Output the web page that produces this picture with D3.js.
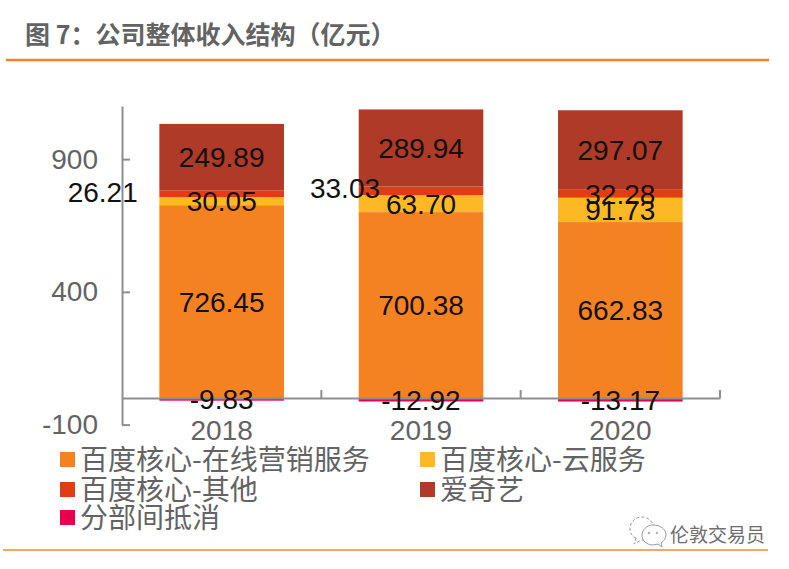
<!DOCTYPE html>
<html>
<head>
<meta charset="utf-8">
<script src="https://d3js.org/d3.v7.min.js"></script>
<style>
html, body { margin: 0; padding: 0; background: #fff; }
svg { display: block; }
text { font-family: "Liberation Sans", "Noto Sans CJK SC", sans-serif; }
</style>
</head>
<body>
<div id="container"></div>
<script>
const width = 789;
const height = 569;

// Chart values
const years = ["2018", "2019", "2020"];
const coreAds = [726.45, 700.38, 662.83];
const coreCloud = [30.05, 63.70, 91.73];
const coreOther = [26.21, 33.03, 32.28];
const iqiyi = [249.89, 289.94, 297.07];
const eliminations = [-9.83, -12.92, -13.17];
const yTicks = [-100, 400, 900];

const seriesNames = ["百度核心-在线营销服务", "百度核心-云服务", "百度核心-其他", "爱奇艺", "分部间抵消"];
const seriesColors = ["#f58220", "#fdb924", "#e03c18", "#ae3a27", "#e8004f"];

const table = years.map((year, i) => ({
	year: year,
	[seriesNames[0]]: coreAds[i],
	[seriesNames[1]]: coreCloud[i],
	[seriesNames[2]]: coreOther[i],
	[seriesNames[3]]: iqiyi[i],
	[seriesNames[4]]: eliminations[i]
}));

// Two labels were dragged off their bars in the original
const labelShift = { "百度核心-其他|2018": [-119, -2], "百度核心-其他|2019": [-76, -3] };

const plot = { left: 122, right: 720, top: 106, bottom: 424.6 };
const gray = "#636363";
const axisGray = "#8e8e8e";

const x = d3.scaleBand().domain(years).range([plot.left, plot.right]).paddingInner(0.375).paddingOuter(0.1875);
const y = d3.scaleLinear().domain([-100, 1100]).range([plot.bottom, plot.top]);

const svg = d3.select("#container").append("svg")
	.attr("width", width)
	.attr("height", height);

// Header and footer
svg.append("text")
	.attr("x", 25).attr("y", 44)
	.attr("font-size", 25).attr("font-weight", "bold").attr("fill", gray)
	.style("font-family", "'Noto Sans CJK SC', sans-serif")
	.style("font-feature-settings", "'chws' 0, 'halt' 0, 'palt' 0")
	.style("text-spacing-trim", "space-all")
	.text("图 7：公司整体收入结构（亿元）");

svg.append("line").attr("x1", 6).attr("x2", 769).attr("y1", 60).attr("y2", 60)
	.attr("stroke", "#f58220").attr("stroke-width", 2.5);
svg.append("line").attr("x1", 3).attr("x2", 768).attr("y1", 550).attr("y2", 550)
	.attr("stroke", "#f5a864").attr("stroke-width", 2);

// Stacked bars
const stack = d3.stack().keys(seriesNames).offset(d3.stackOffsetDiverging);
const layers = stack(table);

svg.append("g").selectAll("g")
	.data(layers)
	.enter().append("g")
	.attr("fill", (d, i) => seriesColors[i])
	.selectAll("rect")
	.data(d => d)
	.enter().append("rect")
	.attr("x", d => x(d.data.year))
	.attr("width", x.bandwidth())
	.attr("y", d => y(Math.max(d[0], d[1])))
	.attr("height", d => Math.abs(y(d[0]) - y(d[1])));

// Value axis
const yAxis = svg.append("g")
	.attr("transform", "translate(" + plot.left + ",0)")
	.call(d3.axisLeft(y).tickValues(yTicks).tickFormat(d => String(d)).tickSizeInner(-8).tickSizeOuter(0).tickPadding(24));
yAxis.selectAll("path, line").attr("stroke", axisGray).attr("stroke-width", 2);
yAxis.selectAll("text").attr("font-size", 28).attr("fill", gray).attr("font-family", null);

// Category axis sits on the zero line, ticks between the bars
const xAxis = svg.append("g")
	.attr("transform", "translate(0," + y(0) + ")")
	.call(d3.axisBottom(x).tickSize(0).tickPadding(22));
xAxis.select("path").attr("stroke", axisGray).attr("stroke-width", 2);
xAxis.selectAll("text").attr("font-size", 28).attr("fill", gray).attr("font-family", null);
xAxis.selectAll(".sep")
	.data(years)
	.enter().append("line")
	.attr("class", "sep")
	.attr("x1", d => x(d) + x.bandwidth() + x.step() * 0.1875)
	.attr("x2", d => x(d) + x.bandwidth() + x.step() * 0.1875)
	.attr("y1", 0).attr("y2", -8)
	.attr("stroke", axisGray).attr("stroke-width", 2);

// Data labels
layers.forEach(layer => {
	svg.append("g").selectAll("text")
		.data(layer)
		.enter().append("text")
		.attr("transform", d => {
			const shift = labelShift[layer.key + "|" + d.data.year] || [0, 0];
			const cx = x(d.data.year) + x.bandwidth() / 2 + shift[0];
			const cy = y((d[0] + d[1]) / 2) + shift[1];
			return "translate(" + cx + "," + cy + ")";
		})
		.attr("text-anchor", "middle")
		.attr("dy", "0.36em")
		.attr("font-size", 28)
		.attr("fill", "#111")
		.text(d => d.data[layer.key].toFixed(2));
});

// Legend
const legendX = [60, 420];
const legendY = [452, 482, 510];
const legendCells = [[0, 0], [1, 0], [0, 1], [1, 1], [0, 2]];
const legend = svg.append("g").selectAll("g")
	.data(seriesNames)
	.enter().append("g")
	.attr("transform", (d, i) => "translate(" + legendX[legendCells[i][0]] + "," + legendY[legendCells[i][1]] + ")");
legend.append("rect")
	.attr("width", 15).attr("height", 15)
	.attr("fill", (d, i) => seriesColors[i]);
legend.append("text")
	.attr("x", 20).attr("y", 8).attr("dy", "0.36em")
	.attr("font-size", 28).attr("fill", gray)
	.style("font-family", "'Noto Sans CJK SC', sans-serif")
	.text(d => d);

// Watermark
const mark = svg.append("g").attr("fill", "#fff").attr("stroke", "#9a9a9a").attr("stroke-width", 1);
mark.append("path").attr("d", "M636 538 L634 544 L641 540 C648 541 654 536 654 529 C654 522 648 517 642 517 C635 517 630 522 630 529 C630 533 632 536 636 538 Z").attr("stroke-dasharray", "3 2");
mark.append("path").attr("d", "M658 544 L662 547 L661 543 C664 541 666 538 666 535 C666 529 660 525 653 525 C647 525 642 530 642 535 C642 541 647 545 653 545 Z");
mark.append("circle").attr("cx", 649).attr("cy", 533).attr("r", 0.8);
mark.append("circle").attr("cx", 657).attr("cy", 533).attr("r", 0.8);
svg.append("text")
	.attr("x", 670).attr("y", 542)
	.attr("font-size", 19).attr("fill", "#6e6e6e")
	.style("font-family", "'Noto Sans CJK SC', sans-serif")
	.text("伦敦交易员");
</script>
</body>
</html>
